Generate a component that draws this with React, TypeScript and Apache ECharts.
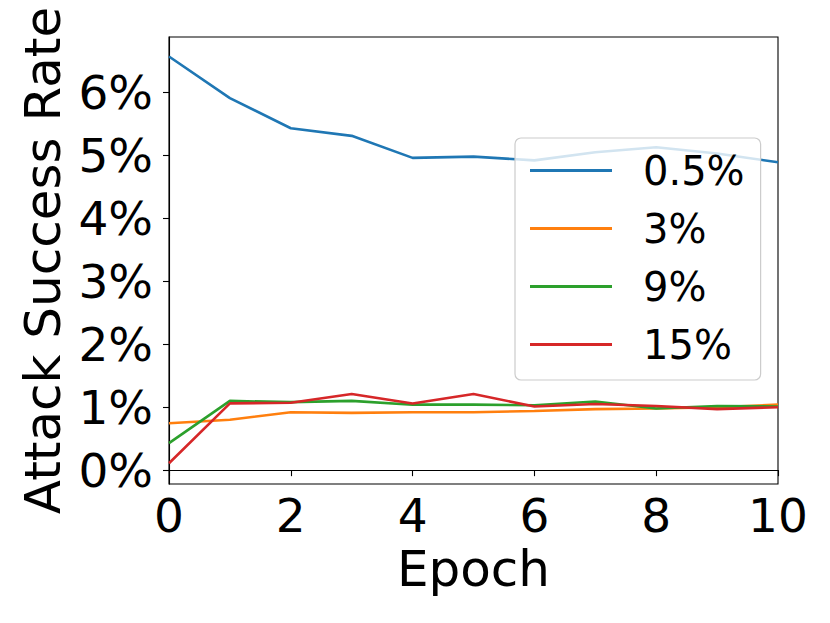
import React, { useEffect, useRef } from "react";
import * as echarts from "echarts";

const epochs = [0, 1, 2, 3, 4, 5, 6, 7, 8, 9, 10];
const seriesNames = ["0.5%", "3%", "9%", "15%"];
const rate05 = [6.57, 5.91, 5.43, 5.31, 4.96, 4.98, 4.92, 5.05, 5.13, 5.03, 4.89];
const rate3 = [0.745, 0.8, 0.92, 0.91, 0.92, 0.92, 0.94, 0.97, 0.98, 1.0, 1.04];
const rate9 = [0.43, 1.1, 1.08, 1.1, 1.04, 1.04, 1.03, 1.09, 0.98, 1.02, 1.01];
const rate15 = [0.11, 1.06, 1.07, 1.21, 1.06, 1.21, 1.01, 1.05, 1.02, 0.97, 1.0];
const colors = ["#1f77b4", "#ff7f0e", "#2ca02c", "#d62728"];
const yTicks = [0, 1, 2, 3, 4, 5, 6];

const FONT = "DejaVu Sans";

export default function App() {
  const ref = useRef<HTMLDivElement>(null);
  useEffect(() => {
    if (!ref.current) return;
    const chart = echarts.init(ref.current, undefined, { renderer: "svg" });
    const all = [rate05, rate3, rate9, rate15];
    chart.setOption({
      animation: false,
      backgroundColor: "#fff",
      grid: { left: 169, top: 37, right: 52, bottom: 139, show: true, borderColor: "#000", borderWidth: 1.1, backgroundColor: "transparent" },
      xAxis: {
        type: "value",
        min: 0,
        max: 10,
        interval: 2,
        name: "Epoch",
        nameLocation: "middle",
        nameGap: 60,
        nameTextStyle: { fontFamily: FONT, fontSize: 50, color: "#000" },
        axisLine: { show: true, lineStyle: { color: "#000", width: 1.1 } },
        axisTick: { show: true, length: 6, lineStyle: { color: "#000", width: 1.1 } },
        axisLabel: { fontFamily: FONT, fontSize: 47, color: "#000", margin: 8 },
        splitLine: { show: false },
      },
      yAxis: {
        type: "value",
        min: -0.22,
        max: 6.88,
        name: "Attack Success Rate",
        nameLocation: "middle",
        nameGap: 95,
        nameTextStyle: { fontFamily: FONT, fontSize: 50, color: "#000" },
        axisLine: { show: true, lineStyle: { color: "#000", width: 1.1 } },
        axisTick: { show: true, length: 6, customValues: yTicks, lineStyle: { color: "#000", width: 1.1 } },
        axisLabel: {
          fontFamily: FONT,
          fontSize: 47,
          color: "#000",
          margin: 16,
          customValues: yTicks,
          formatter: (v: number) => `${Math.round(v)}%`,
        },
        splitLine: { show: false },
      },
      legend: {
        orient: "vertical",
        left: 515,
        top: 138,
        padding: [9, 16, 12, 15],
        itemGap: 11,
        itemWidth: 82,
        itemHeight: 3,
        icon: "rect",
        backgroundColor: "rgba(255,255,255,0.8)",
        borderColor: "#cccccc",
        borderWidth: 1.2,
        borderRadius: 6,
        textStyle: { fontFamily: FONT, fontSize: 40, color: "#000", lineHeight: 47, padding: [0, 0, 0, 26] },
        data: seriesNames,
      },
      series: seriesNames.map((name, i) => ({
        name,
        type: "line",
        data: epochs.map((e, j) => [e, all[i][j]]),
        symbol: "none",
        color: colors[i],
        itemStyle: { color: colors[i] },
        lineStyle: { width: 2.6, color: colors[i] },
      })),
    });
    return () => chart.dispose();
  }, []);
  return <div ref={ref} style={{ position: "fixed", left: 0, top: 0, width: 830, height: 623 }} />;
}
